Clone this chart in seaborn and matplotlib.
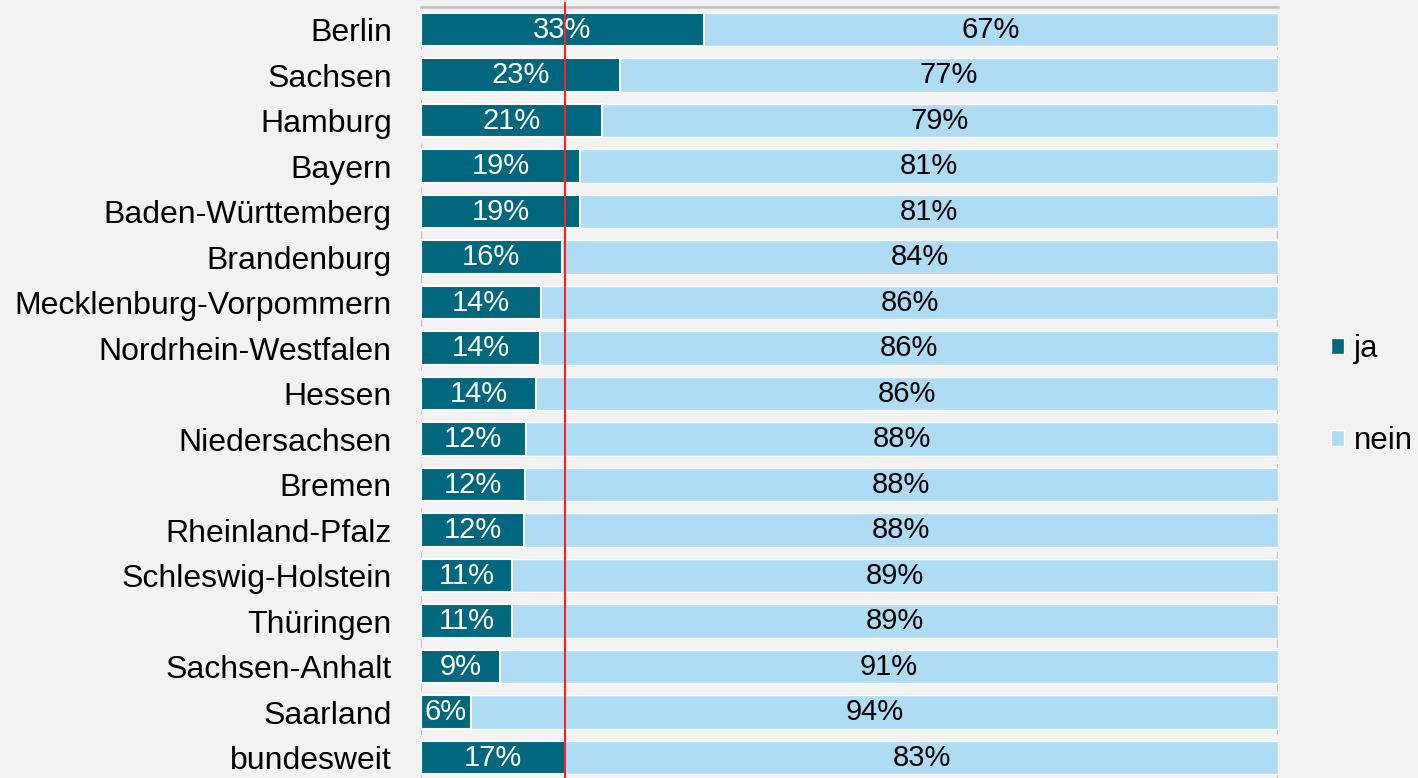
import matplotlib
matplotlib.use("Agg")
import matplotlib.pyplot as plt
from matplotlib.patches import Patch
import seaborn as sns
import pandas as pd

# Anteil "ja" je Bundesland (in %), Rest = "nein"
laender = ["Berlin", "Sachsen", "Hamburg", "Bayern", "Baden-Württemberg",
           "Brandenburg", "Mecklenburg-Vorpommern", "Nordrhein-Westfalen",
           "Hessen", "Niedersachsen", "Bremen", "Rheinland-Pfalz",
           "Schleswig-Holstein", "Thüringen", "Sachsen-Anhalt", "Saarland",
           "bundesweit"]
ja = [33.0, 23.2, 21.1, 18.6, 18.6, 16.4, 14.0, 13.9, 13.4, 12.2, 12.1,
      12.0, 10.6, 10.6, 9.2, 5.8, 16.8]
ja_lbl = [33, 23, 21, 19, 19, 16, 14, 14, 14, 12, 12, 12, 11, 11, 9, 6, 17]
nein_lbl = [67, 77, 79, 81, 81, 84, 86, 86, 86, 88, 88, 88, 89, 89, 91, 94, 83]

dark = "#00677f"
light = "#addcf4"
bg = "#f2f2f2"

df = pd.DataFrame({"land": laender, "ja": ja})
df["gesamt"] = 100.0

sns.set_style("white")
plt.rcParams["font.family"] = ["Liberation Sans", "DejaVu Sans"]

fig = plt.figure(figsize=(14.18, 7.78), dpi=100, facecolor=bg)
ax = fig.add_axes([0.2969, -0.003, 0.6044, 0.9943])
ax.set_facecolor(bg)

# dashed gridlines at 0 and 100 (visible between the bars)
for gx in (0, 100):
    ax.axvline(gx, color="#bfbfbf", lw=1.5, ls=(0, (4, 3)), zorder=0)

sns.barplot(data=df, x="gesamt", y="land", color=light, width=0.735,
            saturation=1, orient="h", ax=ax, zorder=2)
sns.barplot(data=df, x="ja", y="land", color=dark, width=0.735,
            saturation=1, orient="h", ax=ax, edgecolor="white", linewidth=1.5,
            zorder=3)

for i, (v, a, b) in enumerate(zip(ja, ja_lbl, nein_lbl)):
    ax.text(v / 2, i, f"{a}%", ha="center", va="center", color="white",
            fontsize=21, zorder=5)
    ax.text(v + (100 - v) / 2, i, f"{b}%", ha="center", va="center",
            color="black", fontsize=21, zorder=5)

# Referenzlinie bundesweit
ax.axvline(ja[-1], color="#ff2020", lw=1.5, zorder=4, ymax=1.005, clip_on=False)

ax.set_xlim(0, 100)
ax.set_ylim(len(laender) - 0.5, -0.5)
ax.set_xlabel("")
ax.set_ylabel("")
ax.set_xticks([])
ax.tick_params(axis="y", length=0, pad=21, labelsize=23, labelcolor="black")
for s in ("left", "right", "bottom"):
    ax.spines[s].set_visible(False)
ax.spines["top"].set_color("#bfbfbf")
ax.spines["top"].set_linewidth(1.8)

handles = [Patch(facecolor=dark, label="ja"), Patch(facecolor=light, label="nein")]
fig.legend(handles=handles, loc="center left", bbox_to_anchor=(0.919, 0.492),
           frameon=False, fontsize=22.5, handlelength=0.42, handleheight=0.42,
           handletextpad=0.3, labelspacing=2.0, labelcolor="black")

fig.savefig("out.png", dpi=100, facecolor=bg)
